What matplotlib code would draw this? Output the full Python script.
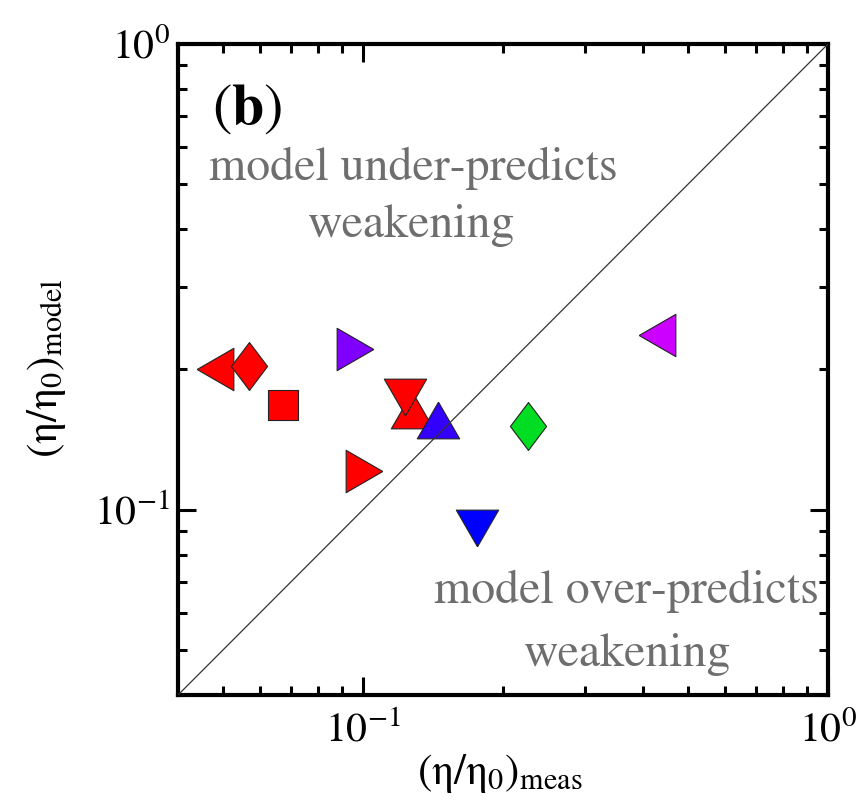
import numpy as np
import matplotlib
matplotlib.use("Agg")
import matplotlib.pyplot as plt

plt.rcParams["font.family"] = ["STIXGeneral", "DejaVu Serif"]
plt.rcParams["mathtext.fontset"] = "stix"

# measured vs. modelled normalised viscosity
eta_meas = [0.0480, 0.0568, 0.0673, 0.0959, 0.1274, 0.1234, 0.1452, 0.1005, 0.1756, 0.2265, 0.4296]
eta_model = [0.2007, 0.2032, 0.1680, 0.2216, 0.1639, 0.1743, 0.1560, 0.1209, 0.0915, 0.1510, 0.2374]
shapes = ["left", "diamond", "square", "right", "up", "down", "up", "right", "down", "diamond", "left"]
colors = ["#FF0000", "#FF0000", "#FF0000", "#7F00FF", "#FF0000", "#FF0000",
          "#3300FF", "#FF0000", "#0000FF", "#00DD22", "#CC00FF"]

h = np.sqrt(3) / 2
marker_verts = {
    "up": [(0, h), (-1, -h), (1, -h), (0, h)],
    "down": [(0, -h), (-1, h), (1, h), (0, -h)],
    "left": [(-h, 0), (h, 1), (h, -1), (-h, 0)],
    "right": [(h, 0), (-h, 1), (-h, -1), (h, 0)],
    "diamond": [(0, 1), (0.755, 0), (0, -1), (-0.755, 0), (0, 1)],
    "square": [(-1, -1), (1, -1), (1, 1), (-1, 1), (-1, -1)],
}
marker_size = {"up": 30.5, "down": 30.5, "left": 30.5, "right": 30.5,
               "diamond": 34.5, "square": 21.0}

W, H = 861, 811
fig = plt.figure(figsize=(W / 100, H / 100), dpi=100)
ax = fig.add_axes([178 / W, 1 - 695 / H, (828 - 178) / W, (695 - 44) / H])

lo, hi = 0.04, 1.0
ax.set_xscale("log")
ax.set_yscale("log")
ax.set_xlim(lo, hi)
ax.set_ylim(lo, hi)

for x, y, s, c in zip(eta_meas, eta_model, shapes, colors):
    ax.plot([x], [y], linestyle="none", marker=marker_verts[s],
            markersize=marker_size[s], markerfacecolor=c,
            markeredgecolor="#222222", markeredgewidth=0.8, zorder=3)

# one-to-one line
ax.plot([lo, hi], [lo, hi], color="#333333", lw=0.9, zorder=4)

for sp in ax.spines.values():
    sp.set_linewidth(3.0)
ax.tick_params(which="both", direction="in", top=True, right=True,
               labelsize=30, width=2.2, colors="black")
ax.tick_params(which="major", length=13)
ax.tick_params(which="minor", length=6.5)
ax.tick_params(axis="x", which="major", pad=12)
ax.tick_params(axis="y", which="major", pad=6)
ax.minorticks_on()
ax.xaxis.set_minor_formatter(matplotlib.ticker.NullFormatter())
ax.yaxis.set_minor_formatter(matplotlib.ticker.NullFormatter())

# panel tag
fig.text(212 / W, 1 - 124 / H, r"$\mathrm{(}\mathbf{b}\mathrm{)}$", fontsize=42,
         ha="left", va="baseline")

gray = "#6E6E6E"
fs = 34.5
fig.text(413 / W, 1 - 180 / H, "model under-predicts", fontsize=fs, color=gray,
         ha="center", va="baseline")
fig.text(411 / W, 1 - 237 / H, "weakening", fontsize=fs, color=gray,
         ha="center", va="baseline")
fig.text(626 / W, 1 - 603 / H, "model over-predicts", fontsize=fs, color=gray,
         ha="center", va="baseline")
fig.text(627 / W, 1 - 666 / H, "weakening", fontsize=fs, color=gray,
         ha="center", va="baseline")

fig.text(500 / W, 1 - 784 / H, r"(η/η$_0$)$_{\mathrm{meas}}$", fontsize=31,
         ha="center", va="baseline")
fig.text(47 / W, 1 - 368 / H, r"(η/η$_0$)$_{\mathrm{model}}$", fontsize=31,
         ha="center", va="center", rotation=90)

fig.savefig("out.png", dpi=100)
